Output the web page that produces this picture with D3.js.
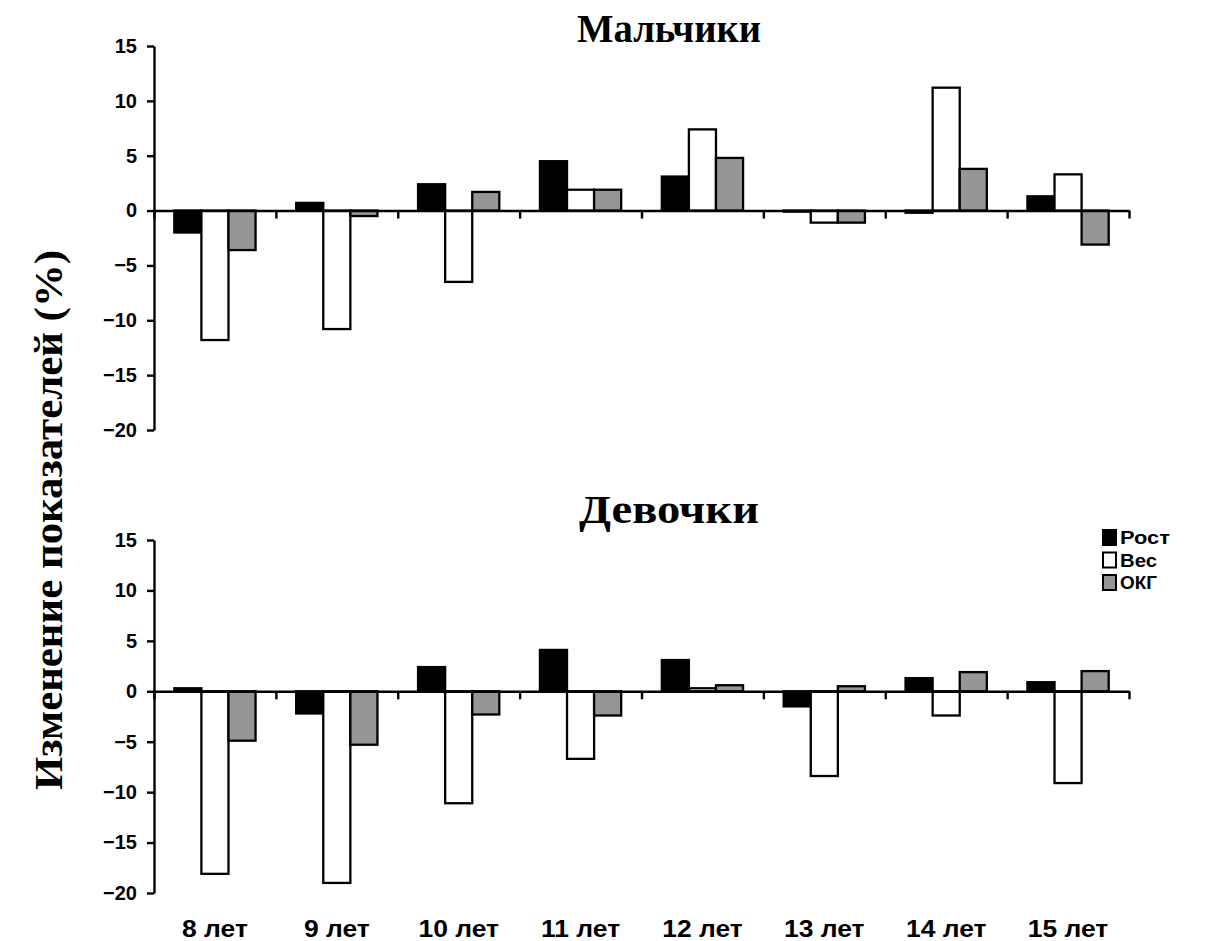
<!DOCTYPE html>
<html><head><meta charset="utf-8">
<script src="https://cdn.jsdelivr.net/npm/d3@7"></script>
<style>body{margin:0;background:#fff}</style>
</head><body>
<svg id="c" width="1230" height="941"></svg>
<script>
const categories = ["8 лет","9 лет","10 лет","11 лет","12 лет","13 лет","14 лет","15 лет"];
const seriesNames = ["Рост","Вес","ОКГ"];
const seriesColors = ["#000000","#ffffff","#969696"];
// Boys
const boysRost = [-2.0, 0.7, 2.4, 4.5, 3.1, -0.1, -0.2, 1.3];
const boysVes  = [-11.8, -10.8, -6.5, 1.9, 7.4, -1.1, 11.2, 3.3];
const boysOkg  = [-3.6, -0.5, 1.7, 1.9, 4.8, -1.1, 3.8, -3.1];
// Girls
const girlsRost = [0.3, -2.2, 2.4, 4.1, 3.1, -1.5, 1.3, 0.9];
const girlsVes  = [-18.1, -19.0, -11.1, -6.7, 0.3, -8.4, -2.4, -9.1];
const girlsOkg  = [-4.9, -5.3, -2.3, -2.4, 0.6, 0.5, 1.9, 2.0];
const yTicks = [-20,-15,-10,-5,0,5,10,15];
const titles = ["Мальчики","Девочки"];
const yLabel = "Изменение показателей (%)";

const svg = d3.select("#c");
const sans = "'Liberation Sans', Arial, sans-serif";
const serif = "'Liberation Serif', 'Times New Roman', serif";

const x0 = 154, x1 = 1129;
const xBand = d3.scaleBand().domain(categories).range([x0, x1]).paddingInner(0).paddingOuter(0);
const bw = xBand.bandwidth() / 4.5;
const xInner = d3.scaleBand().domain(seriesNames).range([0, bw*3]);
const xBound = d3.scaleLinear().domain([0, categories.length]).range([x0, x1]);

const panels = [
  {title: titles[0], data: [boysRost, boysVes, boysOkg], top: 46, bottom: 430, titleY: 42, titleLen: 184},
  {title: titles[1], data: [girlsRost, girlsVes, girlsOkg], top: 540, bottom: 893, titleY: 523, titleLen: 180}
];

panels.forEach((p, pi) => {
  const y = d3.scaleLinear().domain([-20, 15]).range([p.bottom, p.top]);
  const g = svg.append("g");
  seriesNames.forEach((s, si) => {
    g.append("g").selectAll("rect").data(p.data[si]).join("rect")
      .attr("x", (d, i) => xBand(categories[i]) + (xBand.bandwidth() - bw*3)/2 + xInner(s))
      .attr("width", bw)
      .attr("y", d => y(Math.max(0, d)))
      .attr("height", d => Math.abs(y(d) - y(0)))
      .attr("fill", seriesColors[si])
      .attr("stroke", "#000").attr("stroke-width", 2.3);
  });
  const ya = g.append("g").attr("transform", `translate(${x0},0)`)
    .call(d3.axisLeft(y).tickValues(yTicks).tickSize(7).tickSizeOuter(0).tickPadding(10));
  ya.select(".domain").attr("stroke-width", 2.4);
  ya.selectAll(".tick line").attr("stroke-width", 2.4);
  ya.selectAll("text").attr("font-family", sans).attr("font-weight", "bold").attr("font-size", 20).attr("fill", "#000");
  const xa = g.append("g").attr("transform", `translate(0,${y(0)})`)
    .call(d3.axisBottom(xBound).tickValues(d3.range(0, categories.length + 1)).tickFormat("").tickSize(8).tickSizeOuter(0));
  xa.select(".domain").attr("stroke-width", 2.4);
  xa.selectAll(".tick line").attr("stroke-width", 2.4);
  svg.append("text").attr("x", 669).attr("y", p.titleY).attr("text-anchor", "middle")
    .attr("font-family", serif).attr("font-weight", "bold").attr("font-size", 40)
    .attr("textLength", p.titleLen).attr("lengthAdjust", "spacingAndGlyphs")
    .text(p.title);
  if (pi === 1) {
    const xl = g.append("g").attr("transform", `translate(0,937)`)
      .call(d3.axisBottom(xBand).tickSize(0).tickPadding(0));
    xl.select(".domain").remove();
    xl.selectAll("text").attr("dy", 0).attr("y", 0)
      .attr("transform", "scale(1.15,1)")
      .attr("font-family", sans).attr("font-weight", "bold")
      .attr("font-size", 23).attr("fill", "#000");
  }
});

svg.append("text").attr("transform", "translate(62,520) rotate(-90)")
  .attr("text-anchor", "middle").attr("font-family", serif).attr("font-weight", "bold")
  .attr("font-size", 41).attr("textLength", 540).attr("lengthAdjust", "spacingAndGlyphs")
  .text(yLabel);

const lg = svg.append("g").attr("transform", "translate(1103,530)");
seriesNames.forEach((s, i) => {
  lg.append("rect").attr("x", 0).attr("y", i*22.5).attr("width", 13).attr("height", 15)
    .attr("fill", seriesColors[i]).attr("stroke", "#000").attr("stroke-width", 2);
  lg.append("text").attr("x", 17).attr("y", i*22.5 + 14).attr("font-family", sans)
    .attr("font-weight", "bold").attr("font-size", 19)
    .attr("textLength", s.length === 4 ? 50 : 37).attr("lengthAdjust", "spacingAndGlyphs")
    .text(s);
});
</script>
</body></html>
